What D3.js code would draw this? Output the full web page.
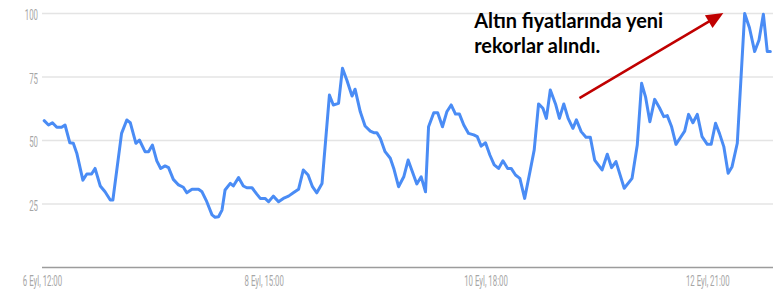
<!DOCTYPE html>
<html><head><meta charset="utf-8">
<script src="https://cdn.jsdelivr.net/npm/d3@7"></script>
<style>body{margin:0;background:#fff}svg{display:block}</style>
</head><body><svg id="c" width="784" height="301"></svg>
<script>
// hours since 6 Eyl, 12:00
const hours = [0.5,1.5,2.4,3.4,4.5,5.3,6.4,7.2,8.0,9.4,10.3,11.4,12.2,13.4,14.5,15.7,16.3,18.3,19.5,20.3,21.6,22.4,23.7,24.5,25.4,26.4,27.3,28.3,29.1,30.2,31.4,32.5,33.3,34.5,36.0,36.8,37.9,39.1,39.8,40.6,41.4,42.1,43.3,44.0,45.2,46.3,47.1,48.3,49.4,50.2,51.3,52.1,53.2,54.4,55.5,56.7,57.8,59.0,60.1,61.2,62.2,63.2,64.4,66.1,67.0,68.2,69.1,70.1,71.3,72.0,73.2,74.3,75.5,76.3,77.0,77.8,78.9,80.1,80.9,82.0,83.2,84.2,86.2,87.2,88.2,88.9,90.1,91.0,92.1,93.1,94.1,95.1,96.0,97.0,98.1,99.3,100.1,101.0,102.0,103.0,104.0,105.0,106.0,107.1,107.9,108.9,109.9,111.0,112.3,113.2,114.2,115.2,116.0,116.9,118.1,119.0,120.0,121.0,122.1,122.9,124.0,125.1,126.1,127.1,128.8,130.0,131.0,132.0,133.9,135.7,136.9,137.9,138.8,139.8,140.9,142.0,143.0,143.8,144.8,145.8,146.8,147.8,148.7,149.7,150.7,151.8,153.0,153.9,154.9,155.8,156.8,157.8,158.7,159.9,161.6,162.7,163.9,164.9,165.9,166.8,167.5];
const values = [57.8,56.1,57,55.2,55.2,56.1,49.1,48.9,45,34.4,36.8,36.8,39,32.1,29.8,26.6,26.6,52.8,58.1,57,48.9,50.2,45.6,45.6,48.2,42,39,40,39.3,34.7,32.5,31.6,29.4,30.8,30.8,29.8,25.9,20.7,19.8,20,22.6,30.5,33.1,32.1,35.4,32.1,31.4,31.4,28.9,27.2,27.2,25.9,28.1,25.9,27.2,28.1,29.4,30.8,38.4,36.4,31.8,29.4,33.1,67.9,64,64.6,78.4,73.8,67.5,70.2,61.3,55.7,53.7,53.1,53.1,50.9,45.6,43,39,31.8,35.7,42.3,32.9,35.7,29.8,55.4,60.9,60.9,55.4,61.3,64,60.4,60.4,56.1,52.8,52.2,51.5,47.8,49.1,44.3,40.4,39,42,39,39,36.4,35.1,27.2,38.4,46.3,64.4,62.7,58.7,69.9,64.4,58.7,64.4,58.7,54.8,58.1,53.5,51.3,51.3,42.3,38.4,44.6,39.3,41.7,31.2,35.1,48.2,72.5,67.2,57.4,66.2,62.9,59.4,59.8,55.4,48.5,51.1,53.7,60.3,57,60.3,51.5,48.5,48.5,56.8,52.8,47.6,37.1,39.7,48.9,100,94.4,85,89.6,99.7,85,85];

const xTickHours = [0, 51, 102, 153];
const xTickLabels = ["6 Eyl, 12:00", "8 Eyl, 15:00", "10 Eyl, 18:00", "12 Eyl, 21:00"];
const yTicks = [25, 50, 75, 100];
const annotationLines = ["Altın fiyatlarında yeni", "rekorlar alındı."];
const annotationAt = [99.4, 94.3];      // hour, value of text anchor
const arrowFrom = [123.6, 66.7];        // hour, value
const arrowTo = [156.7, 100.2];

const svg = d3.select("#c");
const x = d3.scaleLinear().domain([0, 168]).range([42, 772.5]);
const y = d3.scaleLinear().domain([0, 100]).range([267.5, 13.5]);

// gridlines
svg.append("g").selectAll("line").data(yTicks).join("line")
  .attr("x1", 42).attr("x2", 773)
  .attr("y1", d => y(d)).attr("y2", d => y(d))
  .attr("stroke", "#e4e4e4").attr("stroke-width", 1.5);

// y axis labels
const yAxis = d3.axisLeft(y).tickValues(yTicks).tickSize(0).tickPadding(0);
const gy = svg.append("g").attr("transform", "translate(38,0)").call(yAxis);
gy.select(".domain").remove();
gy.selectAll("text")
  .attr("x", 0).attr("dy", null).attr("y", 6.3)
  .attr("transform", "scale(0.56,1)")
  .attr("font-family", "Roboto").attr("font-size", 14).attr("fill", "#a6a6a6");

// x axis
svg.append("line").attr("x1", 42).attr("x2", 773).attr("y1", y(0)).attr("y2", y(0))
  .attr("stroke", "#9c9c9c").attr("stroke-width", 1.3);
const xAxis = d3.axisBottom(x).tickValues(xTickHours).tickFormat((d, i) => xTickLabels[i]).tickSize(0);
const gx = svg.append("g").attr("transform", `translate(0,${y(0)})`).call(xAxis);
gx.select(".domain").remove();
gx.selectAll("text")
  .attr("y", 18.5).attr("dy", null)
  .attr("transform", "scale(0.56,1)")
  .attr("font-family", "Roboto").attr("font-size", 14).attr("fill", "#a6a6a6");

// line
const line = d3.line().x((d, i) => x(hours[i])).y(d => y(d));
svg.append("path").datum(values)
  .attr("d", line).attr("fill", "none")
  .attr("stroke", "#4a8cf5").attr("stroke-width", 3)
  .attr("stroke-linejoin", "round").attr("stroke-linecap", "round");

// annotation text
const ta = svg.append("g");
const t1 = ta.append("text").attr("x", x(annotationAt[0])).attr("y", y(annotationAt[1]))
  .attr("font-family", "Lato").attr("font-weight", "bold").attr("font-size", 18).attr("fill", "#000")
  .text(annotationLines[0]);
const w = t1.node().getComputedTextLength();
const fs = 18 * 189 / w;
t1.attr("font-size", fs);
ta.append("text").attr("x", x(annotationAt[0])).attr("y", y(annotationAt[1]) + 25)
  .attr("font-family", "Lato").attr("font-weight", "bold").attr("font-size", fs).attr("fill", "#000")
  .text(annotationLines[1]);

// arrow
const x0 = x(arrowFrom[0]), y0 = y(arrowFrom[1]), x1 = x(arrowTo[0]), y1 = y(arrowTo[1]);
const L = Math.hypot(x1 - x0, y1 - y0), ux = (x1 - x0) / L, uy = (y1 - y0) / L;
const hl = 17, hw = 7.5;
const bx = x1 - hl * ux, by = y1 - hl * uy;
svg.append("line").attr("x1", x0).attr("y1", y0).attr("x2", bx + ux).attr("y2", by + uy)
  .attr("stroke", "#c00000").attr("stroke-width", 2.5);
svg.append("path")
  .attr("d", `M${x1},${y1}L${bx - hw * uy},${by + hw * ux}L${bx + hw * uy},${by - hw * ux}Z`)
  .attr("fill", "#c00000");
</script></body></html>
